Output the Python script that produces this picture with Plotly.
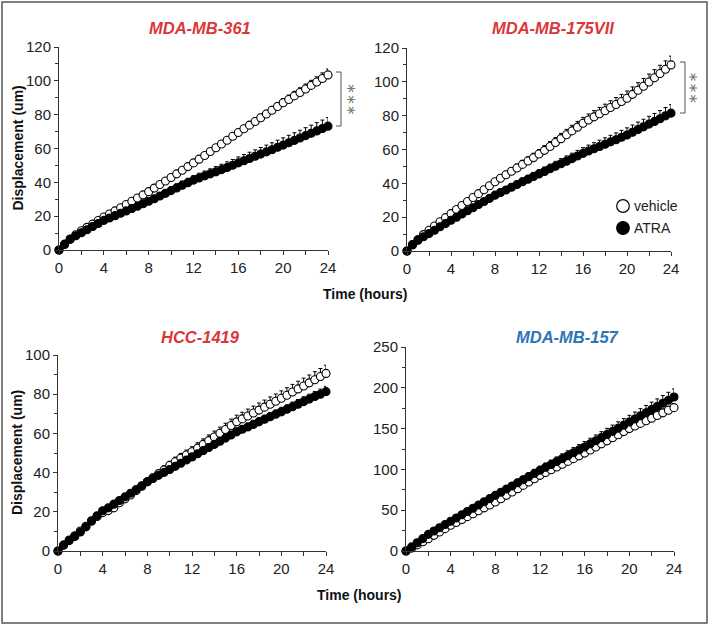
import plotly.graph_objects as go

# ---------------- data ----------------
time_h = [0, 0.5, 1, 1.5, 2, 2.5, 3, 3.5, 4, 4.5,
          5, 5.5, 6, 6.5, 7, 7.5, 8, 8.5, 9, 9.5,
          10, 10.5, 11, 11.5, 12, 12.5, 13, 13.5, 14, 14.5,
          15, 15.5, 16, 16.5, 17, 17.5, 18, 18.5, 19, 19.5,
          20, 20.5, 21, 21.5, 22, 22.5, 23, 23.5, 24]

panel_titles = ["MDA-MB-361", "MDA-MB-175VII", "HCC-1419", "MDA-MB-157"]
series_names = ["vehicle", "ATRA"]

# MDA-MB-361
mb361_vehicle = [0, 3.5, 6.5, 9.0, 11.4, 13.4, 15.3, 17.4, 19.5, 21.3,
                 23.1, 25.0, 26.9, 28.8, 30.7, 32.6, 34.5, 36.6, 38.7, 40.8,
                 42.9, 45.0, 47.1, 49.3, 51.5, 53.7, 55.9, 58.2, 60.4, 62.7,
                 64.9, 67.2, 69.5, 71.7, 73.8, 76.0, 78.2, 80.4, 82.6, 84.8,
                 87.0, 89.0, 91.1, 93.1, 95.2, 97.3, 99.3, 101.4, 103.5]
mb361_vehicle_err = [0, 0.3, 0.4, 0.5, 0.5, 0.6, 0.6, 0.7, 0.7, 0.8,
                     0.8, 0.9, 0.9, 1.0, 1.0, 1.1, 1.1, 1.2, 1.2, 1.3,
                     1.3, 1.4, 1.4, 1.5, 1.5, 1.6, 1.6, 1.7, 1.7, 1.8,
                     1.8, 1.9, 1.9, 2.0, 2.0, 2.1, 2.2, 2.2, 2.3, 2.4,
                     2.5, 2.6, 2.7, 2.8, 2.9, 3.0, 3.1, 3.3, 3.5]
mb361_atra = [0, 3.3, 6.3, 8.4, 10.2, 12.0, 13.9, 15.7, 17.5, 18.9,
              20.3, 21.7, 23.1, 24.5, 25.9, 27.3, 28.8, 30.3, 31.9, 33.5,
              35.1, 36.7, 38.3, 39.8, 41.3, 42.6, 43.8, 45.0, 46.2, 47.5,
              48.8, 50.1, 51.5, 52.8, 54.1, 55.4, 56.7, 58.0, 59.3, 60.7,
              62.0, 63.4, 64.8, 66.2, 67.6, 69.0, 70.4, 71.8, 73.2]
mb361_atra_err = [0, 0.4, 0.5, 0.6, 0.7, 0.8, 0.9, 1.0, 1.1, 1.2,
                  1.3, 1.4, 1.5, 1.6, 1.7, 1.8, 1.9, 2.0, 2.1, 2.2,
                  2.3, 2.4, 2.5, 2.6, 2.7, 2.8, 2.9, 3.0, 3.1, 3.2,
                  3.3, 3.4, 3.5, 3.6, 3.7, 3.8, 3.9, 4.0, 4.1, 4.2,
                  4.3, 4.4, 4.5, 4.6, 4.7, 4.8, 4.9, 5.0, 5.1]

# MDA-MB-175VII
mb175_vehicle = [0, 3.8, 6.8, 9.7, 12.3, 14.8, 17.3, 19.7, 22.1, 24.5,
                 26.9, 29.3, 31.6, 33.9, 36.2, 38.6, 40.9, 43.0, 45.1, 47.1,
                 49.1, 51.2, 53.2, 55.2, 57.3, 59.5, 61.8, 64.1, 66.4, 68.7,
                 71.0, 73.2, 75.5, 77.4, 79.3, 81.1, 82.9, 84.8, 86.6, 88.4,
                 90.3, 92.6, 95.0, 97.4, 99.9, 102.4, 104.9, 107.4, 110.0]
mb175_vehicle_err = [0, 0.4, 0.5, 0.6, 0.7, 0.8, 0.9, 1.0, 1.1, 1.2,
                     1.3, 1.4, 1.5, 1.6, 1.7, 1.8, 1.9, 2.0, 2.1, 2.2,
                     2.3, 2.4, 2.5, 2.6, 2.7, 2.8, 2.9, 3.0, 3.1, 3.2,
                     3.3, 3.4, 3.5, 3.6, 3.7, 3.8, 3.9, 4.0, 4.1, 4.2,
                     4.3, 4.4, 4.5, 4.6, 4.7, 4.8, 4.9, 5.0, 5.2]
mb175_atra = [0, 3.6, 6.3, 8.4, 10.3, 12.3, 14.3, 16.2, 18.2, 20.0,
              21.9, 23.8, 25.6, 27.5, 29.3, 31.1, 33.0, 34.6, 36.1, 37.7,
              39.3, 40.9, 42.4, 44.0, 45.5, 47.0, 48.6, 50.1, 51.6, 53.1,
              54.6, 56.2, 57.7, 59.1, 60.4, 61.8, 63.1, 64.5, 65.8, 67.2,
              68.6, 70.2, 71.8, 73.4, 75.0, 76.6, 78.2, 79.9, 81.5]
mb175_atra_err = [0, 0.3, 0.4, 0.5, 0.6, 0.7, 0.8, 0.9, 1.0, 1.1,
                  1.2, 1.3, 1.4, 1.5, 1.6, 1.7, 1.8, 1.9, 2.0, 2.1,
                  2.2, 2.3, 2.4, 2.5, 2.6, 2.7, 2.8, 2.9, 3.0, 3.1,
                  3.2, 3.3, 3.4, 3.5, 3.6, 3.7, 3.8, 3.9, 4.0, 4.1,
                  4.2, 4.3, 4.4, 4.5, 4.6, 4.7, 4.8, 4.9, 5.0]

# HCC-1419
hcc1419_vehicle = [0, 3.0, 5.6, 7.8, 10.2, 12.6, 15.2, 17.6, 19.6, 20.6,
                   22.0, 24.6, 26.6, 28.6, 30.8, 33.0, 35.3, 37.4, 39.4, 41.4,
                   43.6, 45.6, 47.4, 49.0, 50.6, 52.5, 54.4, 56.3, 58.2, 60.1,
                   62.0, 64.0, 65.9, 67.4, 68.9, 70.4, 71.9, 73.4, 74.9, 76.4,
                   77.9, 79.5, 81.1, 82.7, 84.2, 85.8, 87.4, 89.0, 90.6]
hcc1419_vehicle_err = [0, 0.3, 0.4, 0.5, 0.6, 0.7, 0.8, 0.9, 1.0, 1.1,
                       1.2, 1.3, 1.4, 1.5, 1.6, 1.7, 1.8, 1.9, 2.0, 2.1,
                       2.2, 2.3, 2.4, 2.5, 2.6, 2.7, 2.8, 2.9, 3.0, 3.1,
                       3.2, 3.3, 3.4, 3.4, 3.5, 3.5, 3.6, 3.6, 3.7, 3.7,
                       3.8, 3.8, 3.9, 3.9, 4.0, 4.0, 4.1, 4.1, 4.2]
hcc1419_atra = [0, 3.0, 5.3, 7.4, 9.7, 12.3, 15.4, 18.0, 20.5, 22.0,
                23.9, 25.8, 27.6, 29.5, 31.4, 33.3, 35.3, 37.0, 38.6, 40.1,
                41.6, 43.2, 44.8, 46.4, 48.0, 49.6, 51.2, 52.8, 54.4, 56.0,
                57.6, 59.2, 60.8, 62.1, 63.3, 64.6, 65.9, 67.2, 68.5, 69.8,
                71.0, 72.3, 73.6, 74.9, 76.2, 77.5, 78.8, 80.0, 81.3]
hcc1419_atra_err = [0, 0.2, 0.3, 0.4, 0.5, 0.5, 0.6, 0.6, 0.7, 0.7,
                    0.8, 0.8, 0.9, 0.9, 1.0, 1.0, 1.1, 1.1, 1.2, 1.2,
                    1.3, 1.3, 1.4, 1.4, 1.5, 1.5, 1.6, 1.6, 1.7, 1.7,
                    1.8, 1.8, 1.9, 1.9, 2.0, 2.0, 2.1, 2.1, 2.2, 2.2,
                    2.3, 2.3, 2.4, 2.4, 2.5, 2.5, 2.6, 2.6, 2.7]

# MDA-MB-157
mb157_vehicle = [0, 3.5, 7.5, 11.3, 15.1, 19.2, 23.3, 27.4, 31.5, 35.0,
                 38.5, 42.1, 45.7, 49.3, 52.9, 56.4, 60.0, 64.1, 68.2, 72.3,
                 76.4, 80.4, 84.5, 88.6, 92.7, 96.1, 99.5, 102.9, 106.3, 109.8,
                 113.2, 116.6, 120.0, 123.8, 127.5, 131.3, 135.0, 138.8, 142.5, 146.3,
                 150.0, 153.2, 156.4, 159.6, 162.8, 166.1, 169.3, 172.5, 175.7]
mb157_vehicle_err = [0, 0.3, 0.4, 0.5, 0.6, 0.7, 0.8, 0.9, 1.0, 1.1,
                     1.2, 1.3, 1.4, 1.5, 1.6, 1.7, 1.8, 1.9, 2.0, 2.1,
                     2.2, 2.3, 2.4, 2.5, 2.6, 2.7, 2.8, 2.9, 3.0, 3.1,
                     3.2, 3.3, 3.4, 3.5, 3.6, 3.7, 3.8, 3.9, 4.0, 4.1,
                     4.2, 4.3, 4.4, 4.5, 4.6, 4.7, 4.8, 4.9, 5.0]
mb157_atra = [0, 5.0, 10.0, 15.2, 20.4, 24.5, 28.5, 32.5, 36.4, 40.4,
              44.4, 48.4, 52.3, 56.3, 60.3, 64.2, 68.2, 72.0, 75.9, 79.7,
              83.6, 87.4, 91.2, 95.1, 98.9, 102.5, 106.0, 109.6, 113.2, 116.8,
              120.4, 123.9, 127.5, 131.3, 135.1, 138.9, 142.8, 146.6, 150.4, 154.2,
              158.0, 161.8, 165.7, 169.5, 173.3, 177.1, 181.0, 184.8, 188.7]
mb157_atra_err = [0, 0.5, 0.7, 0.9, 1.1, 1.3, 1.5, 1.7, 1.9, 2.1,
                  2.3, 2.5, 2.7, 2.9, 3.1, 3.3, 3.5, 3.7, 3.9, 4.1,
                  4.3, 4.5, 4.7, 4.9, 5.1, 5.3, 5.5, 5.7, 5.9, 6.1,
                  6.3, 6.5, 6.7, 6.9, 7.1, 7.3, 7.5, 7.7, 7.9, 8.1,
                  8.3, 8.5, 8.7, 8.9, 9.1, 9.3, 9.5, 9.7, 9.9]

x_ticks = [0, 4, 8, 12, 16, 20, 24]

# ---------------- layout helpers ----------------
W, H = 709, 626
def px(x):
    return x / W
def py(y):
    return 1 - y / H

FONT = "Liberation Sans, Arial, sans-serif"
AX = "#333333"

panels = [
    dict(title=panel_titles[0], color="#d9383a",
         veh=mb361_vehicle, veh_err=mb361_vehicle_err, atra=mb361_atra, atra_err=mb361_atra_err,
         xdom=[px(59), px(328)], ydom=[py(250), py(47)], yrange=[0, 120], dtick=20, minor=10,
         tx=200, ty=28, ytitle=True),
    dict(title=panel_titles[1], color="#d9383a",
         veh=mb175_vehicle, veh_err=mb175_vehicle_err, atra=mb175_atra, atra_err=mb175_atra_err,
         xdom=[px(407), px(671)], ydom=[py(251), py(48)], yrange=[0, 120], dtick=20, minor=10,
         tx=553, ty=28, ytitle=False),
    dict(title=panel_titles[2], color="#d9383a",
         veh=hcc1419_vehicle, veh_err=hcc1419_vehicle_err, atra=hcc1419_atra, atra_err=hcc1419_atra_err,
         xdom=[px(58), px(326)], ydom=[py(551), py(355)], yrange=[0, 100], dtick=20, minor=10,
         tx=200, ty=337, ytitle=True),
    dict(title=panel_titles[3], color="#2e75b6",
         veh=mb157_vehicle, veh_err=mb157_vehicle_err, atra=mb157_atra, atra_err=mb157_atra_err,
         xdom=[px(406), px(674)], ydom=[py(551), py(347)], yrange=[0, 250], dtick=50, minor=25,
         tx=567, ty=337, ytitle=False),
]

fig = go.Figure()
annotations = []
shapes = []
layout_axes = {}

for i, p in enumerate(panels, start=1):
    xa = "x" if i == 1 else f"x{i}"
    ya = "y" if i == 1 else f"y{i}"
    for name, vals, err, fill in [(series_names[0], p["veh"], p["veh_err"], "white"),
                                  (series_names[1], p["atra"], p["atra_err"], "black")]:
        fig.add_trace(go.Scatter(
            x=time_h, y=vals, mode="markers", name=name, showlegend=False,
            xaxis=xa, yaxis=ya, cliponaxis=False,
            marker=dict(size=8, color=fill, line=dict(color="black", width=1.1)),
            error_y=dict(type="data", symmetric=False, array=err,
                         arrayminus=[0] * len(err), color="black", thickness=1, width=2),
        ))
    xkey = "xaxis" if i == 1 else f"xaxis{i}"
    ykey = "yaxis" if i == 1 else f"yaxis{i}"
    layout_axes[xkey] = dict(
        domain=p["xdom"], range=[0, 24], anchor=ya, tickvals=x_ticks, automargin=False,
        showline=True, linecolor=AX, linewidth=1, ticks="outside", ticklen=4,
        tickcolor=AX, tickwidth=1, showgrid=False, zeroline=False,
        tickfont=dict(family=FONT, size=15, color="#222222"),
        minor=dict(dtick=2, ticks="outside", ticklen=4, tickcolor=AX, showgrid=False),
    )
    layout_axes[ykey] = dict(
        domain=p["ydom"], range=p["yrange"], anchor=xa, dtick=p["dtick"], automargin=False,
        showline=True, linecolor=AX, linewidth=1, ticks="outside", ticklen=4,
        tickcolor=AX, tickwidth=1, showgrid=False, zeroline=False,
        tickfont=dict(family=FONT, size=15, color="#222222"),
        minor=dict(dtick=p["minor"], ticks="outside", ticklen=3, tickcolor=AX, showgrid=False),
    )
    annotations.append(dict(
        text=p["title"], x=px(p["tx"]), y=py(p["ty"]), xref="paper", yref="paper",
        showarrow=False, xanchor="center", yanchor="middle",
        font=dict(family=FONT, size=16.5, color=p["color"], weight="bold", style="italic"),
    ))
    if p["ytitle"]:
        ymid = (p["ydom"][0] + p["ydom"][1]) / 2
        annotations.append(dict(
            text="<b>Displacement (um)</b>", x=px(17), y=ymid, xref="paper", yref="paper",
            showarrow=False, textangle=-90, xanchor="center", yanchor="middle",
            font=dict(family=FONT, size=14, color="#111111"),
        ))

# x axis titles
for (cx, cy) in [(365, 294), (359, 595)]:
    annotations.append(dict(
        text="<b>Time (hours)</b>", x=px(cx), y=py(cy), xref="paper", yref="paper",
        showarrow=False, xanchor="center", yanchor="middle",
        font=dict(family=FONT, size=14, color="#111111"),
    ))

# significance brackets
BR = "#555555"
for (bx, y_top, y_bot, sx) in [(341, 72, 126, 352), (685, 62, 113, 693)]:
    shapes.append(dict(type="path", xref="paper", yref="paper",
                       path=f"M {px(bx-5)},{py(y_top)} L {px(bx)},{py(y_top)} L {px(bx)},{py(y_bot)} L {px(bx-5)},{py(y_bot)}",
                       line=dict(color=BR, width=1)))
    annotations.append(dict(
        text="\u2217\u2217\u2217", x=px(sx), y=py((y_top + y_bot) / 2), xref="paper", yref="paper",
        showarrow=False, textangle=90, xanchor="center", yanchor="middle",
        font=dict(family="DejaVu Sans, sans-serif", size=13, color="#7a7a7a"),
    ))

# legend (panel 2)
for (ly, label, fill) in [(206, series_names[0], "white"), (228, series_names[1], "black")]:
    r = 6.3
    shapes.append(dict(type="circle", xref="paper", yref="paper",
                       x0=px(623 - r), x1=px(623 + r), y0=py(ly + r), y1=py(ly - r),
                       line=dict(color="black", width=1.2), fillcolor=fill))
    annotations.append(dict(
        text=label, x=px(632), y=py(ly), xref="paper", yref="paper",
        showarrow=False, xanchor="left", yanchor="middle",
        font=dict(family=FONT, size=14, color="#222222"),
    ))

# outer border
shapes.append(dict(type="rect", xref="paper", yref="paper",
                   x0=px(2), x1=px(707), y0=py(623), y1=py(2),
                   line=dict(color="#555555", width=1.5)))

fig.update_layout(
    width=W, height=H, margin=dict(l=0, r=0, t=0, b=0),
    paper_bgcolor="white", plot_bgcolor="white",
    showlegend=False, annotations=annotations, shapes=shapes,
    font=dict(family=FONT),
    **layout_axes,
)

fig.write_html(
    "out.html",
    config={"displayModeBar": False},
    post_script="document.body.style.margin='0px';document.body.style.overflow='hidden';",
)
